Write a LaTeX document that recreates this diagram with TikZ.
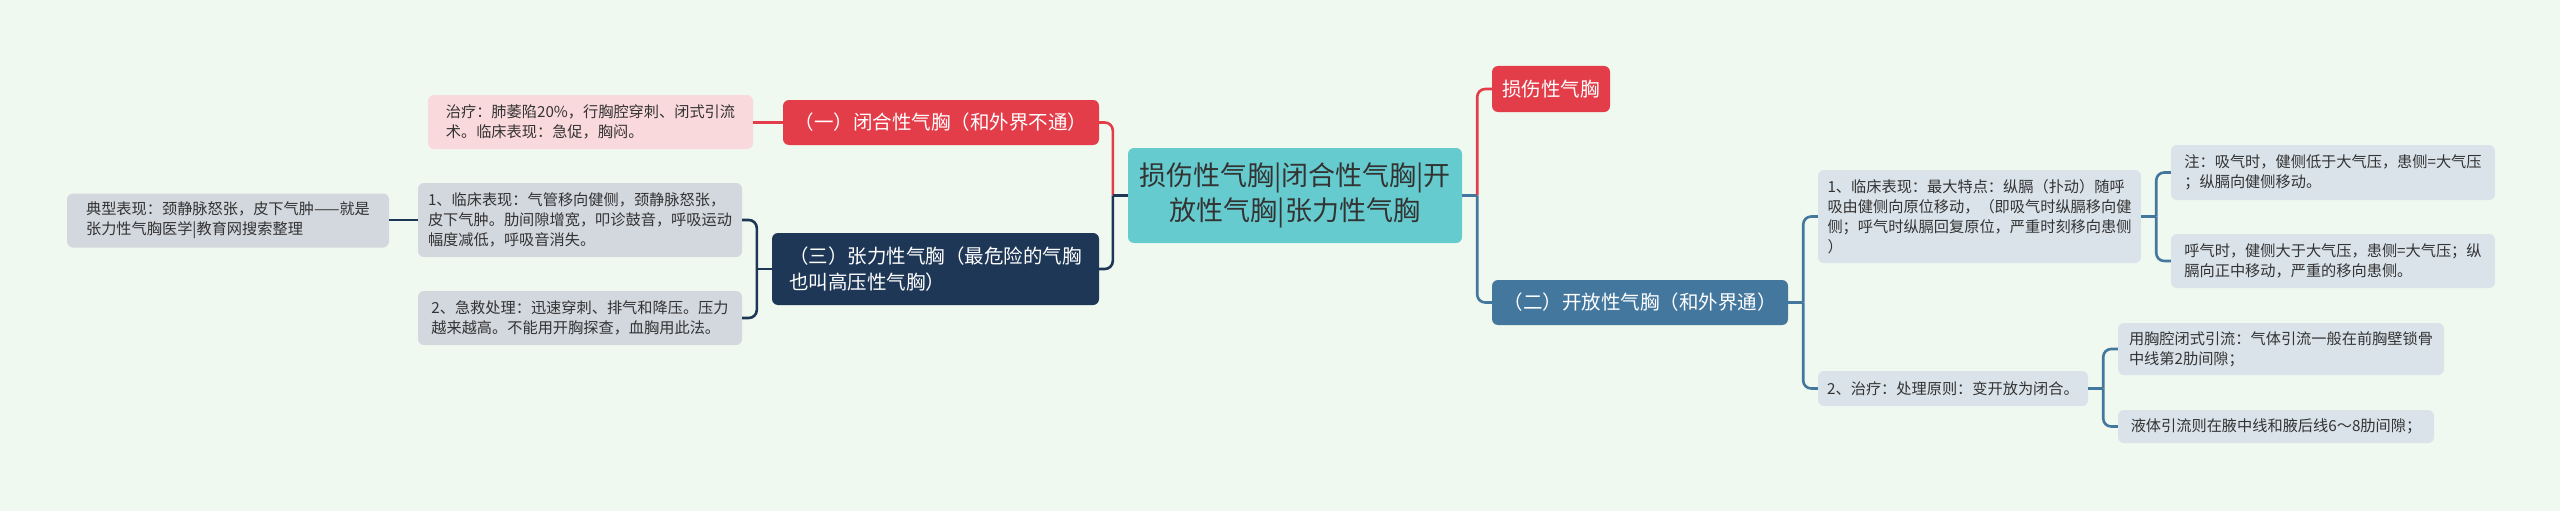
\documentclass[tikz,border=0pt]{standalone}
\usepackage{fontspec}
\setmainfont{Noto Sans CJK SC}
\definecolor{bg}{HTML}{F0F9EF}
\definecolor{teal}{HTML}{66CBCE}
\definecolor{cred}{HTML}{E43D4A}
\definecolor{pinkL}{HTML}{FAD9DC}
\definecolor{cnavy}{HTML}{1E3756}
\definecolor{csteel}{HTML}{44779E}
\definecolor{greyL}{HTML}{D3D7DE}
\definecolor{blueL}{HTML}{DAE3EA}
\definecolor{txt}{HTML}{333333}
\newcommand\leaffont{\fontsize{15.2}{20}\selectfont}
\newcommand\mainfont{\fontsize{19.5}{26}\selectfont}
\newcommand\ctrfont{\fontsize{27}{35}\selectfont}
\begin{document}
\begin{tikzpicture}[x=1pt,y=-1pt,
  box/.style={rounded corners=6pt, inner xsep=6pt, inner ysep=3pt, anchor=center},
  leaf/.style={box, align=left, font=\leaffont, text=txt},
  branch/.style={box, align=left, font=\mainfont, text=white},
  conn/.style={line width=2.6pt, rounded corners=8pt}
]
\fill[bg] (0,0) rectangle (2560,511);
\useasboundingbox (0,0) rectangle (2560,511);

% center
\node[box, fill=teal, align=center, font=\ctrfont, text=txt, minimum width=334pt, minimum height=95pt] (ctr) at (1295,195.5) {损伤性气胸|闭合性气胸|开\\放性气胸|张力性气胸};

% right main branches
\node[branch, fill=cred, minimum width=118pt, minimum height=46pt] (ss) at (1551,89) {损伤性气胸};
\node[branch, fill=csteel, minimum width=296pt, minimum height=45pt] (kf) at (1640,302.5) {（二）开放性气胸（和外界通）};

% left main branches
\node[branch, fill=cred, minimum width=316pt, minimum height=45pt] (bh) at (941,122.5) {（一）闭合性气胸（和外界不通）};
\node[branch, fill=cnavy, minimum width=327pt, minimum height=72pt] (zl) at (935.5,269) {（三）张力性气胸（最危险的气胸\\也叫高压性气胸）};

% left leaves
\node[leaf, fill=pinkL, minimum width=325pt, minimum height=54pt] (pk) at (590.5,122) {治疗：肺萎陷20\%，行胸腔穿刺、闭式引流\\术。临床表现：急促，胸闷。};
\node[leaf, fill=greyL, minimum width=324pt, minimum height=74pt] (l1) at (580,220) {1、临床表现：气管移向健侧，颈静脉怒张，\\皮下气肿。肋间隙增宽，叩诊鼓音，呼吸运动\\幅度减低，呼吸音消失。};
\node[leaf, fill=greyL, minimum width=324pt, minimum height=54pt] (l2) at (580,318) {2、急救处理：迅速穿刺、排气和降压。压力\\越来越高。不能用开胸探查，血胸用此法。};
\node[leaf, fill=greyL, minimum width=322pt, minimum height=54pt] (typ) at (228,220.5) {典型表现：颈静脉怒张，皮下气肿——就是\\张力性气胸医学|教育网搜索整理};

% right leaves
\node[leaf, fill=blueL, minimum width=323pt, minimum height=93pt] (r1) at (1979.5,216.5) {1、临床表现：最大特点：纵膈（扑动）随呼\\吸由健侧向原位移动，（即吸气时纵膈移向健\\侧；呼气时纵膈回复原位，严重时刻移向患侧\\）};
\node[leaf, fill=blueL, minimum width=324pt, minimum height=55pt] (zhu) at (2333,172.5) {注：吸气时，健侧低于大气压，患侧=大气压\\；纵膈向健侧移动。};
\node[leaf, fill=blueL, minimum width=324pt, minimum height=54pt] (hq) at (2333,261) {呼气时，健侧大于大气压，患侧=大气压；纵\\膈向正中移动，严重的移向患侧。};
\node[leaf, fill=blueL, minimum width=270pt, minimum height=35pt] (r2) at (1953,388.5) {2、治疗：处理原则：变开放为闭合。};
\node[leaf, fill=blueL, minimum width=326pt, minimum height=52pt] (yx) at (2281,349) {用胸腔闭式引流：气体引流一般在前胸壁锁骨\\中线第2肋间隙；};
\node[leaf, fill=blueL, minimum width=316pt, minimum height=33pt] (yt) at (2276,426.5) {液体引流则在腋中线和腋后线6～8肋间隙；};

% connectors
\path (ctr.west) ++(-15,0) coordinate (cl);
\path (ctr.east) ++(15,0) coordinate (cr);
\draw[conn, cred] (cl) |- (bh.east);
\draw[conn, cnavy] (cl) |- (zl.east);
\draw[conn, cnavy] (ctr.west) -- (cl);
\draw[conn, cred] (cr) |- (ss.west);
\draw[conn, csteel] (cr) |- (kf.west);
\draw[conn, csteel] (ctr.east) -- (cr);

\draw[conn, cred] (bh.west) -- (bh.west -| pk.east);

\path (zl.west) ++(-15,0) coordinate (zlc);
\draw[conn, cnavy] (zl.west) -- (zlc);
\draw[conn, cnavy] (zlc) |- (l1.east);
\draw[conn, cnavy] (zlc) |- (l2.east);
\draw[conn, cnavy] (l1.west) -- (l1.west -| typ.east);

\path (kf.east) ++(15,0) coordinate (kfc);
\draw[conn, csteel] (kf.east) -- (kfc);
\draw[conn, csteel] (kfc) |- (r1.west);
\draw[conn, csteel] (kfc) |- (r2.west);

\path (r1.east) ++(15,0) coordinate (r1c);
\draw[conn, csteel] (r1.east) -- (r1c);
\draw[conn, csteel] (r1c) |- (zhu.west);
\draw[conn, csteel] (r1c) |- (hq.west);

\path (r2.east) ++(15,0) coordinate (r2c);
\draw[conn, csteel] (r2.east) -- (r2c);
\draw[conn, csteel] (r2c) |- (yx.west);
\draw[conn, csteel] (r2c) |- (yt.west);
\end{tikzpicture}
\end{document}
